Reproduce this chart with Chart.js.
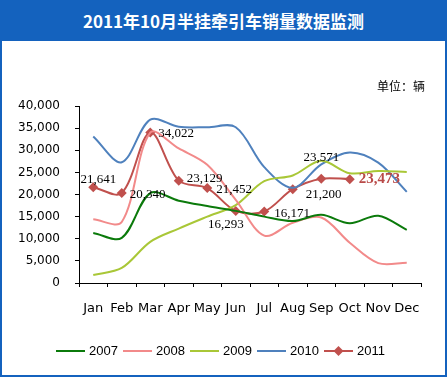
<!DOCTYPE html>
<html><head><meta charset="utf-8">
<script src="https://cdn.jsdelivr.net/npm/chart.js@4.4.1/dist/chart.umd.min.js"></script>
<style>
html,body{margin:0;padding:0;background:#fff;}
#wrap{position:relative;width:447px;height:377px;box-sizing:border-box;border:2px solid #1462BE;border-top:none;overflow:hidden;}
#title{position:absolute;left:-2px;top:0;width:447px;height:41px;background:#1462BE;color:#fff;font:bold 17px "Noto Sans CJK SC",sans-serif;text-align:center;line-height:41px;}
#unit{position:absolute;right:20px;top:77px;font:12px "Noto Sans CJK SC",sans-serif;color:#000;}
canvas{position:absolute;left:-2px;top:0;}
</style></head>
<body><div id="wrap">
<canvas id="c" width="447" height="377"></canvas>
<div id="title">2011年10月半挂牵引车销量数据监测</div>
<div id="unit">单位：辆</div>
</div>
<script>
const categories = ['Jan','Feb','Mar','Apr','May','Jun','Jul','Aug','Sep','Oct','Nov','Dec'];
const seriesNames = ['2007','2008','2009','2010','2011'];
const s2007 = [11300, 10200, 20300, 18600, 17400, 16300, 15000, 14000, 15400, 13500, 15200, 12000];
const s2008 = [14400, 13800, 34000, 30400, 26700, 18800, 10700, 13600, 14800, 9100, 4500, 4600];
const s2009 = [1800, 3400, 9300, 12300, 15000, 17600, 23000, 24300, 27600, 24800, 25300, 25100];
const s2010 = [33100, 27300, 36900, 35300, 35200, 35200, 26200, 21500, 26800, 29500, 27200, 20600];
const s2011 = [21641, 20340, 34022, 23129, 21452, 16293, 16171, 21200, 23571, 23473, null, null];
const yTicks = [0, 5000, 10000, 15000, 20000, 25000, 30000, 35000, 40000];

const colors = ['#0B7A0B', '#F28A8A', '#A9C737', '#4F81BD', '#C0504D'];

// label placement for the 2011 series (style only)
const labelPos = [
  {dx:5, dy:-8, align:'center'},
  {dx:8, dy:2, align:'left'},
  {dx:8, dy:1, align:'left'},
  {dx:8, dy:-2, align:'left'},
  {dx:9, dy:2, align:'left'},
  {dx:-10, dy:14, align:'center'},
  {dx:10, dy:2, align:'left'},
  {dx:13, dy:5, align:'left'},
  {dx:0, dy:-21, align:'center'},
  {dx:9, dy:0, align:'left', bold:true}
];

function fmt(v){ return v.toLocaleString('en-US'); }

const labelPlugin = {
  id:'labels',
  afterDatasetsDraw(chart){
    const ctx = chart.ctx;
    const meta = chart.getDatasetMeta(4);
    ctx.save();
    ctx.textBaseline = 'middle';
    meta.data.forEach((pt, i) => {
      const v = s2011[i];
      if (v == null) return;
      const p = labelPos[i];
      ctx.textAlign = p.align;
      if (p.bold) { ctx.font = 'bold 15px "Liberation Serif", serif'; ctx.fillStyle = '#B94A48'; }
      else { ctx.font = '13px "Liberation Serif", serif'; ctx.fillStyle = '#000'; }
      ctx.fillText(fmt(v), pt.x + p.dx, pt.y + p.dy);
    });
    ctx.restore();
  }
};

const legendPlugin = {
  id:'customLegend',
  afterDraw(chart){
    const ctx = chart.ctx;
    ctx.save();
    ctx.font = '13px "Liberation Sans", sans-serif';
    ctx.textBaseline = 'middle';
    ctx.textAlign = 'left';
    const y = 351;
    let x = 56;
    seriesNames.forEach((n, i) => {
      ctx.strokeStyle = colors[i];
      ctx.lineWidth = 2;
      ctx.beginPath(); ctx.moveTo(x, y); ctx.lineTo(x + 29, y); ctx.stroke();
      if (i === 4) {
        ctx.fillStyle = colors[i];
        ctx.beginPath();
        ctx.moveTo(x + 14.5, y - 5); ctx.lineTo(x + 19.5, y); ctx.lineTo(x + 14.5, y + 5); ctx.lineTo(x + 9.5, y);
        ctx.closePath(); ctx.fill();
      }
      ctx.fillStyle = '#000';
      ctx.fillText(n, x + 33, y);
      x += 67;
    });
    ctx.restore();
  }
};

const datasets = [s2007, s2008, s2009, s2010, s2011].map((d, i) => ({
  label: seriesNames[i],
  data: d,
  borderColor: colors[i],
  backgroundColor: colors[i],
  borderWidth: 2,
  tension: 0.33,
  pointRadius: i === 4 ? 5 : 0,
  pointStyle: 'rectRot',
  pointBorderWidth: 0,
  fill: false,
  spanGaps: false
}));

new Chart(document.getElementById('c'), {
  type: 'line',
  data: { labels: categories, datasets },
  options: {
    responsive: false,
    animation: false,
    devicePixelRatio: 1,
    layout: { padding: { top: 106, left: 0, right: 26, bottom: 54 } },
    plugins: { legend: { display: false }, tooltip: { enabled: false }, title: { display: false } },
    scales: {
      x: {
        offset: true,
        grid: { offset: true, drawOnChartArea: false, drawTicks: true, tickLength: 4, color: '#000' },
        border: { color: '#000', width: 1 },
        ticks: { color: '#000', font: { family: 'DejaVu Sans', size: 13 }, padding: 14, maxRotation: 0, autoSkip: false },
        afterFit(scale){ scale.height = 40; }
      },
      y: {
        min: 0, max: 40000,
        afterBuildTicks(scale){ scale.ticks = yTicks.map(v => ({ value: v })); },
        grid: { drawOnChartArea: false, drawTicks: true, tickLength: 4, color: '#000' },
        border: { color: '#000', width: 1 },
        ticks: { color: '#000', font: { family: 'DejaVu Sans', size: 12 }, padding: 15, callback: v => fmt(v) },
        afterFit(scale){ scale.width = 79; }
      }
    }
  },
  plugins: [labelPlugin, legendPlugin]
});
</script>
</body></html>
